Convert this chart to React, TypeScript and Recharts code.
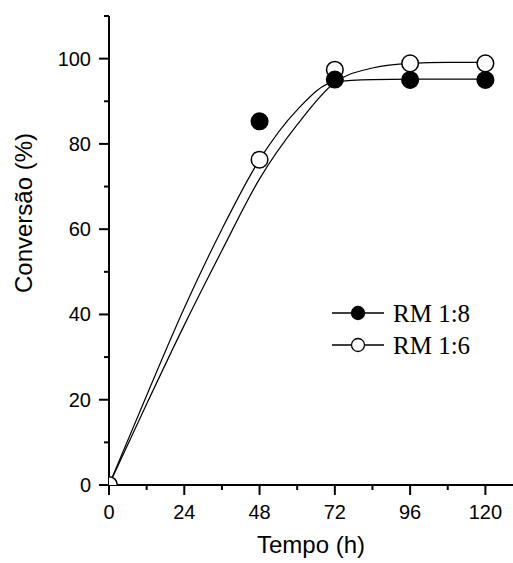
import { ComposedChart, Line, Scatter, XAxis, YAxis } from 'recharts';

const xTicks = [0, 12, 24, 36, 48, 60, 72, 84, 96, 108, 120];
const xLabels = [0, 24, 48, 72, 96, 120];
const yTicks = [0, 10, 20, 30, 40, 50, 60, 70, 80, 90, 100, 110];
const yLabels = [0, 20, 40, 60, 80, 100];

const seriesNames = ['RM 1:8', 'RM 1:6'];

// measured points
const rm18Hours = [48, 72, 96, 120];
const rm18Conv = [85.3, 95.1, 95.0, 95.0];
const rm16Hours = [0, 48, 72, 96, 120];
const rm16Conv = [0, 76.3, 97.4, 98.9, 98.9];

// fitted curves
const fitHours = [0, 12, 24, 36, 48, 60, 72, 84, 96, 108, 120];
const fit18 = [0, 21, 41.5, 60, 76.3, 88, 94.6, 95.1, 95.2, 95.2, 95.2];
const fit16 = [0, 19, 37.5, 55, 71.8, 84.5, 94.4, 97.8, 98.9, 99.1, 99.1];

const pts18 = rm18Hours.map((x, i) => ({ x, y: rm18Conv[i] }));
const pts16 = rm16Hours.map((x, i) => ({ x, y: rm16Conv[i] }));
const curve18 = fitHours.map((x, i) => ({ x, y: fit18[i] }));
const curve16 = fitHours.map((x, i) => ({ x, y: fit16[i] }));

const sans = '"Liberation Sans", Arial, sans-serif';
const serif = '"Liberation Serif", "Times New Roman", serif';

const XTick = (props: any) => {
  const { x, y, payload } = props;
  const major = xLabels.includes(payload.value);
  return (
    <g>
      <line x1={x} x2={x} y1={y} y2={y + (major ? 10 : 5)} stroke="#000" strokeWidth={2} />
      {major && (
        <text x={x} y={y + 34} textAnchor="middle" fontSize={20} fontFamily={sans} fill="#000">
          {payload.value}
        </text>
      )}
    </g>
  );
};

const YTick = (props: any) => {
  const { x, y, payload } = props;
  const major = yLabels.includes(payload.value);
  return (
    <g>
      <line x1={x} x2={x - (major ? 10 : 5)} y1={y} y2={y} stroke="#000" strokeWidth={2} />
      {major && (
        <text x={x - 18} y={y + 7} textAnchor="end" fontSize={20} fontFamily={sans} fill="#000">
          {payload.value}
        </text>
      )}
    </g>
  );
};

const dotShape = (filled: boolean) => (props: any) => (
  <circle cx={props.cx} cy={props.cy} r={8.3} fill={filled ? '#000' : '#fff'} stroke="#000" strokeWidth={1.5} />
);

export default function App() {
  return (
    <div style={{ position: 'absolute', left: 0, top: 0, width: 513, height: 563, background: '#fff' }}>
      <ComposedChart width={513} height={563} margin={{ top: 16, right: 0, bottom: 0, left: 0 }}>
        <XAxis
          type="number"
          dataKey="x"
          domain={[0, 128.8]}
          ticks={xTicks}
          interval={0}
          allowDataOverflow
          tickSize={0}
          tickMargin={0}
          tickLine={false}
          tick={<XTick />}
          height={78}
          axisLine={{ stroke: '#000', strokeWidth: 2 }}
          label={{
            content: (p: any) => (
              <text
                x={p.viewBox.x + p.viewBox.width / 2}
                y={p.viewBox.y + 68}
                textAnchor="middle"
                fontSize={24}
                fontFamily={sans}
                fill="#000"
              >
                Tempo (h)
              </text>
            ),
          }}
        />
        <YAxis
          type="number"
          dataKey="y"
          domain={[0, 110]}
          ticks={yTicks}
          interval={0}
          allowDataOverflow
          tickSize={0}
          tickMargin={0}
          tickLine={false}
          tick={<YTick />}
          width={109}
          axisLine={{ stroke: '#000', strokeWidth: 2 }}
          label={{
            content: (p: any) => (
              <text
                x={32}
                y={p.viewBox.y + 197}
                transform={`rotate(-90, 32, ${p.viewBox.y + 197})`}
                textAnchor="middle"
                fontSize={24}
                fontFamily={sans}
                fill="#000"
              >
                Conversão (%)
              </text>
            ),
          }}
        />
        <Line data={curve18} dataKey="y" type="monotone" stroke="#000" strokeWidth={1.2} dot={false} isAnimationActive={false} />
        <Line data={curve16} dataKey="y" type="monotone" stroke="#000" strokeWidth={1.2} dot={false} isAnimationActive={false} />
        <Scatter name={seriesNames[1]} data={pts16} shape={dotShape(false)} isAnimationActive={false} />
        <Scatter name={seriesNames[0]} data={pts18} shape={dotShape(true)} isAnimationActive={false} />
      </ComposedChart>
      <svg style={{ position: 'absolute', left: 0, top: 0 }} width={513} height={563} pointerEvents="none">
        {seriesNames.map((name, i) => {
          const cy = 313 + i * 32;
          return (
            <g key={name}>
              <line x1={332} x2={384} y1={cy} y2={cy} stroke="#000" strokeWidth={1.3} />
              <circle cx={358} cy={cy} r={6.5} fill={i === 0 ? '#000' : '#fff'} stroke="#000" strokeWidth={1.3} />
              <text x={393} y={cy + 9} fontSize={25} fontFamily={serif} fill="#000">
                {name}
              </text>
            </g>
          );
        })}
      </svg>
    </div>
  );
}
